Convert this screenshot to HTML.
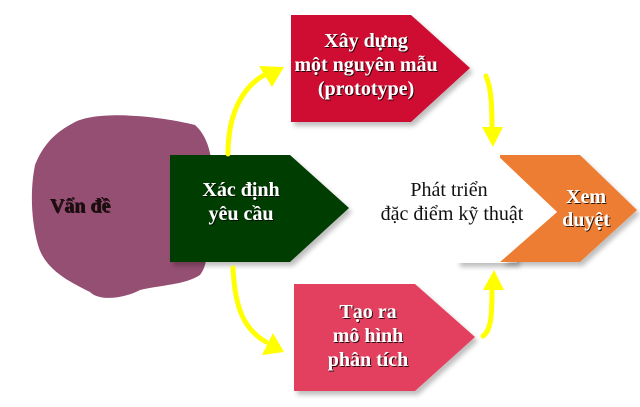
<!DOCTYPE html>
<html><head><meta charset="utf-8"><style>
body{margin:0;width:640px;height:402px;overflow:hidden;background:#fff}
svg text{font-family:"Liberation Serif",serif;font-weight:bold;font-size:20px;text-anchor:middle}
</style></head><body>
<svg width="640" height="402" viewBox="0 0 640 402">
<defs>
<filter id="sh" x="-10%" y="-10%" width="130%" height="130%"><feDropShadow dx="3" dy="4" stdDeviation="2.5" flood-color="#000" flood-opacity="0.25"/></filter>
<filter id="ts"><feDropShadow dx="1" dy="1" stdDeviation="0.3" flood-color="#000" flood-opacity="0.8"/></filter>
</defs>
<!-- blob -->
<path d="M75,122 C100,110 160,116 195,125 C212,140 215,170 210,200 C205,230 212,260 200,275 C185,285 160,285 140,290 C125,298 100,302 90,292 C70,282 45,270 38,245 C31,220 30,190 35,165 C45,140 60,130 75,122 Z" fill="#954f72"/>
<text x="80" y="212" fill="#1a0a10" filter="url(#ts)">Vấn đề</text>
<!-- green -->
<polygon points="170,155 290,155 349,208 290,262 170,262" fill="#003e00" filter="url(#sh)"/>
<text x="241" y="196" fill="#fff" filter="url(#ts)">Xác định</text>
<text x="241" y="220" fill="#fff" filter="url(#ts)">yêu cầu</text>
<!-- red top -->
<polygon points="291,15 411,15 470,68 411,122 291,122" fill="#cf1032" filter="url(#sh)"/>
<text x="366" y="47" fill="#fff" filter="url(#ts)">Xây dựng</text>
<text x="366" y="71" fill="#fff" filter="url(#ts)">một nguyên mẫu</text>
<text x="366" y="95" fill="#fff" filter="url(#ts)">(prototype)</text>
<!-- pink bottom -->
<polygon points="294,284 415,284 475,337 415,391 294,391" fill="#e3405f" filter="url(#sh)"/>
<text x="368" y="318" fill="#fff" filter="url(#ts)">Tạo ra</text>
<text x="368" y="342" fill="#fff" filter="url(#ts)">mô hình</text>
<text x="368" y="366" fill="#fff" filter="url(#ts)">phân tích</text>
<!-- white + orange -->
<rect x="457" y="155" width="60" height="108" fill="#fff" filter="url(#sh)"/>
<polygon points="497,155 580,155 637,210 580,262 500,262 557,212" fill="#ed7d31" filter="url(#sh)"/>
<rect x="380" y="155" width="120" height="108" fill="#fff"/>
<polygon points="495,155 497,155 557,212 500,262 495,262" fill="#fff"/>
<text x="449" y="196" fill="#111" style="font-weight:normal">Phát triển</text>
<text x="452" y="220" fill="#111" style="font-weight:normal">đặc điểm kỹ thuật</text>
<text x="586" y="203" fill="#fff" filter="url(#ts)">Xem</text>
<text x="586" y="226" fill="#fff" filter="url(#ts)">duyệt</text>
<!-- yellow arrows -->
<g stroke="#ffff00" stroke-width="5" fill="none" stroke-linecap="round">
<path d="M228,154 C228,110 245,85 266,74"/>
<path d="M486,76 C492,90 492,110 492,128"/>
<path d="M233,268 C235,310 245,330 266,342"/>
<path d="M483,336 C492,330 492,310 492,290"/>
</g>
<g fill="#ffff00">
<polygon points="284,67 259,66 272,87"/>
<polygon points="493,147 482,127 503,127"/>
<polygon points="284,352 262,355 273,333"/>
<polygon points="494,270 483,290 504,290"/>
</g>
</svg>
</body></html>
